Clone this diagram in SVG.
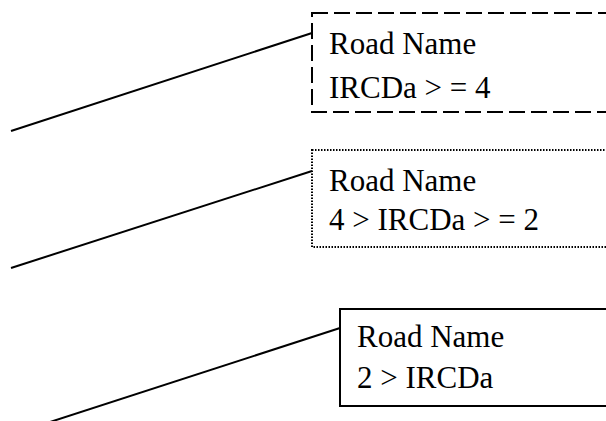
<svg xmlns="http://www.w3.org/2000/svg" width="606" height="421" viewBox="0 0 606 421">
<style>
.t{font-family:"Liberation Serif","Times New Roman",serif;font-size:31px;fill:#000}
.b{fill:#fff;stroke:#000;stroke-width:2}
.c{stroke:#000;stroke-width:2;fill:none}
</style>
<rect width="606" height="421" fill="#fff"/>
<g id="connectors">
<line class="c" x1="11" y1="131" x2="312" y2="33"/>
<line class="c" x1="11" y1="268" x2="312" y2="171"/>
<line class="c" x1="50" y1="422" x2="340" y2="328"/>
</g>
<g id="node1">
<rect class="b" x="312" y="13" width="310" height="99" stroke-dasharray="16,6"/>
<text class="t" x="329" y="54">Road Name</text>
<text class="t" x="329" y="98">IRCDa &gt; = 4</text>
</g>
<g id="node2">
<rect class="b" x="312" y="150" width="310" height="97" stroke-dasharray="1.5,1.5" stroke-width="1.5"/>
<text class="t" x="329" y="191">Road Name</text>
<text class="t" x="329" y="230">4 &gt; IRCDa &gt; = 2</text>
</g>
<g id="node3">
<rect class="b" x="340" y="309" width="290" height="97"/>
<text class="t" x="357" y="347">Road Name</text>
<text class="t" x="357" y="388">2 &gt; IRCDa</text>
</g>
</svg>
